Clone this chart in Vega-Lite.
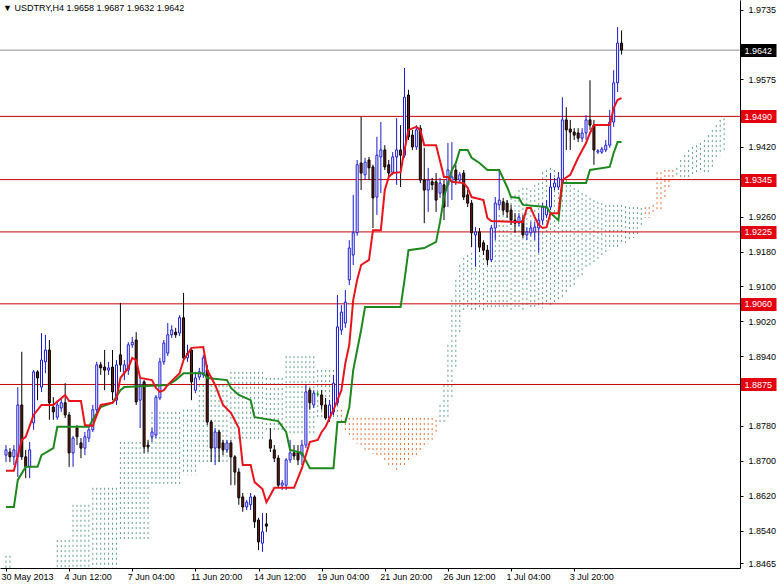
{
"$schema": "https://vega.github.io/schema/vega-lite/v6.json",
"width": 740, "height": 568,
"autosize": {"type": "none"},
"padding": {"left": 0, "top": 0, "right": 37, "bottom": 16},
"background": "white",
"title": {"text": "▼ USDTRY,H4  1.9658 1.9687 1.9632 1.9642", "anchor": "start", "frame": "group", "offset": -13, "fontSize": 9, "fontWeight": "normal", "font": "Liberation Sans", "color": "black", "dx": 3},
"config": {"view": {"stroke": null}, "font": "Liberation Sans", "axis": {"labelOverlap": false, "labelFlush": false, "labelBound": false}},
"datasets": {
"candles": [
{"i":0,"o":1.8713,"h":1.8736,"l":1.8697,"c":1.8725},
{"i":1,"o":1.8720,"h":1.8729,"l":1.8697,"c":1.8709},
{"i":2,"o":1.8709,"h":1.8736,"l":1.8690,"c":1.8725},
{"i":3,"o":1.8709,"h":1.8869,"l":1.8663,"c":1.8828},
{"i":4,"o":1.8828,"h":1.8950,"l":1.8702,"c":1.8709},
{"i":5,"o":1.8709,"h":1.8725,"l":1.8660,"c":1.8686},
{"i":6,"o":1.8686,"h":1.8743,"l":1.8660,"c":1.8725},
{"i":7,"o":1.8787,"h":1.8908,"l":1.8771,"c":1.8904},
{"i":8,"o":1.8904,"h":1.8908,"l":1.8839,"c":1.8890},
{"i":9,"o":1.8869,"h":1.8993,"l":1.8858,"c":1.8931},
{"i":10,"o":1.8927,"h":1.8989,"l":1.8901,"c":1.8954},
{"i":11,"o":1.8954,"h":1.8977,"l":1.8794,"c":1.8833},
{"i":12,"o":1.8823,"h":1.8846,"l":1.8794,"c":1.8812},
{"i":13,"o":1.8800,"h":1.8839,"l":1.8794,"c":1.8828},
{"i":14,"o":1.8821,"h":1.8844,"l":1.8812,"c":1.8833},
{"i":15,"o":1.8833,"h":1.8878,"l":1.8798,"c":1.8805},
{"i":16,"o":1.8805,"h":1.8812,"l":1.8686,"c":1.8718},
{"i":17,"o":1.8718,"h":1.8757,"l":1.8686,"c":1.8752},
{"i":18,"o":1.8775,"h":1.8782,"l":1.8736,"c":1.8755},
{"i":19,"o":1.8741,"h":1.8752,"l":1.8706,"c":1.8729},
{"i":20,"o":1.8729,"h":1.8766,"l":1.8713,"c":1.8755},
{"i":21,"o":1.8752,"h":1.8782,"l":1.8743,"c":1.8771},
{"i":22,"o":1.8771,"h":1.8828,"l":1.8766,"c":1.8817},
{"i":23,"o":1.8817,"h":1.8927,"l":1.8805,"c":1.8920},
{"i":24,"o":1.8920,"h":1.8927,"l":1.8897,"c":1.8913},
{"i":25,"o":1.8915,"h":1.8954,"l":1.8862,"c":1.8908},
{"i":26,"o":1.8908,"h":1.8927,"l":1.8897,"c":1.8913},
{"i":27,"o":1.8915,"h":1.8954,"l":1.8839,"c":1.8858},
{"i":28,"o":1.8839,"h":1.8931,"l":1.8828,"c":1.8920},
{"i":29,"o":1.8943,"h":1.9062,"l":1.8904,"c":1.8920},
{"i":30,"o":1.8901,"h":1.8931,"l":1.8885,"c":1.8920},
{"i":31,"o":1.8908,"h":1.8972,"l":1.8897,"c":1.8966},
{"i":32,"o":1.8966,"h":1.8984,"l":1.8959,"c":1.8972},
{"i":33,"o":1.8977,"h":1.8995,"l":1.8828,"c":1.8835},
{"i":34,"o":1.8839,"h":1.8890,"l":1.8775,"c":1.8874},
{"i":35,"o":1.8881,"h":1.8885,"l":1.8718,"c":1.8732},
{"i":36,"o":1.8736,"h":1.8748,"l":1.8720,"c":1.8732},
{"i":37,"o":1.8755,"h":1.8775,"l":1.8743,"c":1.8766},
{"i":38,"o":1.8759,"h":1.8851,"l":1.8752,"c":1.8846},
{"i":39,"o":1.8844,"h":1.8936,"l":1.8839,"c":1.8927},
{"i":40,"o":1.8927,"h":1.8977,"l":1.8920,"c":1.8970},
{"i":41,"o":1.8947,"h":1.9016,"l":1.8940,"c":1.8989},
{"i":42,"o":1.8989,"h":1.9011,"l":1.8982,"c":1.9000},
{"i":43,"o":1.8995,"h":1.9005,"l":1.8982,"c":1.8989},
{"i":44,"o":1.8993,"h":1.9034,"l":1.8986,"c":1.9028},
{"i":45,"o":1.9028,"h":1.9085,"l":1.8931,"c":1.8936},
{"i":46,"o":1.8936,"h":1.8966,"l":1.8927,"c":1.8947},
{"i":47,"o":1.8954,"h":1.8959,"l":1.8839,"c":1.8881},
{"i":48,"o":1.8862,"h":1.8904,"l":1.8855,"c":1.8890},
{"i":49,"o":1.8892,"h":1.8913,"l":1.8885,"c":1.8904},
{"i":50,"o":1.8897,"h":1.8943,"l":1.8890,"c":1.8936},
{"i":51,"o":1.8908,"h":1.8920,"l":1.8782,"c":1.8789},
{"i":52,"o":1.8789,"h":1.8794,"l":1.8697,"c":1.8729},
{"i":53,"o":1.8729,"h":1.8775,"l":1.8690,"c":1.8766},
{"i":54,"o":1.8766,"h":1.8771,"l":1.8697,"c":1.8729},
{"i":55,"o":1.8741,"h":1.8748,"l":1.8713,"c":1.8725},
{"i":56,"o":1.8725,"h":1.8748,"l":1.8718,"c":1.8741},
{"i":57,"o":1.8741,"h":1.8748,"l":1.8644,"c":1.8709},
{"i":58,"o":1.8709,"h":1.8713,"l":1.8644,"c":1.8674},
{"i":59,"o":1.8674,"h":1.8683,"l":1.8599,"c":1.8615},
{"i":60,"o":1.8617,"h":1.8626,"l":1.8583,"c":1.8594},
{"i":61,"o":1.8594,"h":1.8610,"l":1.8587,"c":1.8605},
{"i":62,"o":1.8599,"h":1.8626,"l":1.8587,"c":1.8617},
{"i":63,"o":1.8617,"h":1.8621,"l":1.8546,"c":1.8560},
{"i":64,"o":1.8564,"h":1.8569,"l":1.8495,"c":1.8514},
{"i":65,"o":1.8511,"h":1.8580,"l":1.8491,"c":1.8537},
{"i":66,"o":1.8555,"h":1.8580,"l":1.8537,"c":1.8550},
{"i":67,"o":1.8748,"h":1.8775,"l":1.8720,"c":1.8729},
{"i":68,"o":1.8725,"h":1.8736,"l":1.8697,"c":1.8706},
{"i":69,"o":1.8706,"h":1.8713,"l":1.8638,"c":1.8644},
{"i":70,"o":1.8644,"h":1.8656,"l":1.8633,"c":1.8649},
{"i":71,"o":1.8644,"h":1.8706,"l":1.8633,"c":1.8702},
{"i":72,"o":1.8702,"h":1.8748,"l":1.8695,"c":1.8718},
{"i":73,"o":1.8718,"h":1.8736,"l":1.8702,"c":1.8711},
{"i":74,"o":1.8718,"h":1.8736,"l":1.8690,"c":1.8702},
{"i":75,"o":1.8713,"h":1.8748,"l":1.8690,"c":1.8736},
{"i":76,"o":1.8736,"h":1.8874,"l":1.8729,"c":1.8858},
{"i":77,"o":1.8862,"h":1.8867,"l":1.8817,"c":1.8833},
{"i":78,"o":1.8828,"h":1.8862,"l":1.8821,"c":1.8855},
{"i":79,"o":1.8853,"h":1.8858,"l":1.8849,"c":1.8853},
{"i":80,"o":1.8851,"h":1.8862,"l":1.8817,"c":1.8828},
{"i":81,"o":1.8828,"h":1.8844,"l":1.8794,"c":1.8798},
{"i":82,"o":1.8798,"h":1.8839,"l":1.8789,"c":1.8828},
{"i":83,"o":1.8812,"h":1.8897,"l":1.8805,"c":1.8878},
{"i":84,"o":1.8833,"h":1.9080,"l":1.8828,"c":1.9007},
{"i":85,"o":1.9000,"h":1.9057,"l":1.8989,"c":1.9041},
{"i":86,"o":1.9016,"h":1.9092,"l":1.9005,"c":1.9064},
{"i":87,"o":1.9115,"h":1.9206,"l":1.9103,"c":1.9188},
{"i":88,"o":1.9172,"h":1.9310,"l":1.9149,"c":1.9223},
{"i":89,"o":1.9223,"h":1.9390,"l":1.9216,"c":1.9379},
{"i":90,"o":1.9383,"h":1.9489,"l":1.9321,"c":1.9360},
{"i":91,"o":1.9356,"h":1.9395,"l":1.9344,"c":1.9385},
{"i":92,"o":1.9390,"h":1.9397,"l":1.9344,"c":1.9372},
{"i":93,"o":1.9374,"h":1.9379,"l":1.9234,"c":1.9303},
{"i":94,"o":1.9305,"h":1.9443,"l":1.9264,"c":1.9401},
{"i":95,"o":1.9397,"h":1.9477,"l":1.9314,"c":1.9413},
{"i":96,"o":1.9413,"h":1.9424,"l":1.9367,"c":1.9374},
{"i":97,"o":1.9379,"h":1.9390,"l":1.9349,"c":1.9360},
{"i":98,"o":1.9362,"h":1.9408,"l":1.9356,"c":1.9397},
{"i":99,"o":1.9397,"h":1.9486,"l":1.9333,"c":1.9413},
{"i":100,"o":1.9413,"h":1.9470,"l":1.9328,"c":1.9401},
{"i":101,"o":1.9401,"h":1.9601,"l":1.9395,"c":1.9534},
{"i":102,"o":1.9539,"h":1.9551,"l":1.9436,"c":1.9443},
{"i":103,"o":1.9447,"h":1.9459,"l":1.9413,"c":1.9420},
{"i":104,"o":1.9420,"h":1.9470,"l":1.9413,"c":1.9459},
{"i":105,"o":1.9463,"h":1.9470,"l":1.9337,"c":1.9344},
{"i":106,"o":1.9344,"h":1.9418,"l":1.9245,"c":1.9321},
{"i":107,"o":1.9321,"h":1.9372,"l":1.9271,"c":1.9344},
{"i":108,"o":1.9340,"h":1.9349,"l":1.9321,"c":1.9333},
{"i":109,"o":1.9340,"h":1.9360,"l":1.9271,"c":1.9298},
{"i":110,"o":1.9314,"h":1.9349,"l":1.9303,"c":1.9337},
{"i":111,"o":1.9333,"h":1.9344,"l":1.9252,"c":1.9282},
{"i":112,"o":1.9333,"h":1.9429,"l":1.9282,"c":1.9367},
{"i":113,"o":1.9340,"h":1.9431,"l":1.9298,"c":1.9351},
{"i":114,"o":1.9367,"h":1.9379,"l":1.9333,"c":1.9344},
{"i":115,"o":1.9344,"h":1.9362,"l":1.9337,"c":1.9356},
{"i":116,"o":1.9360,"h":1.9367,"l":1.9298,"c":1.9305},
{"i":117,"o":1.9310,"h":1.9321,"l":1.9282,"c":1.9291},
{"i":118,"o":1.9291,"h":1.9298,"l":1.9190,"c":1.9223},
{"i":119,"o":1.9218,"h":1.9236,"l":1.9145,"c":1.9225},
{"i":120,"o":1.9225,"h":1.9234,"l":1.9179,"c":1.9190},
{"i":121,"o":1.9200,"h":1.9206,"l":1.9172,"c":1.9183},
{"i":122,"o":1.9183,"h":1.9195,"l":1.9149,"c":1.9161},
{"i":123,"o":1.9161,"h":1.9241,"l":1.9156,"c":1.9234},
{"i":124,"o":1.9234,"h":1.9305,"l":1.9206,"c":1.9291},
{"i":125,"o":1.9287,"h":1.9367,"l":1.9275,"c":1.9298},
{"i":126,"o":1.9294,"h":1.9303,"l":1.9264,"c":1.9275},
{"i":127,"o":1.9291,"h":1.9298,"l":1.9257,"c":1.9271},
{"i":128,"o":1.9275,"h":1.9287,"l":1.9241,"c":1.9252},
{"i":129,"o":1.9252,"h":1.9268,"l":1.9223,"c":1.9245},
{"i":130,"o":1.9245,"h":1.9268,"l":1.9238,"c":1.9259},
{"i":131,"o":1.9252,"h":1.9264,"l":1.9211,"c":1.9218},
{"i":132,"o":1.9218,"h":1.9236,"l":1.9206,"c":1.9225},
{"i":133,"o":1.9223,"h":1.9248,"l":1.9216,"c":1.9234},
{"i":134,"o":1.9225,"h":1.9248,"l":1.9206,"c":1.9236},
{"i":135,"o":1.9234,"h":1.9268,"l":1.9177,"c":1.9252},
{"i":136,"o":1.9252,"h":1.9291,"l":1.9241,"c":1.9282},
{"i":137,"o":1.9264,"h":1.9298,"l":1.9257,"c":1.9282},
{"i":138,"o":1.9282,"h":1.9360,"l":1.9275,"c":1.9328},
{"i":139,"o":1.9328,"h":1.9349,"l":1.9321,"c":1.9337},
{"i":140,"o":1.9328,"h":1.9362,"l":1.9321,"c":1.9349},
{"i":141,"o":1.9337,"h":1.9534,"l":1.9333,"c":1.9482},
{"i":142,"o":1.9482,"h":1.9511,"l":1.9413,"c":1.9459},
{"i":143,"o":1.9461,"h":1.9482,"l":1.9413,"c":1.9454},
{"i":144,"o":1.9454,"h":1.9463,"l":1.9436,"c":1.9447},
{"i":145,"o":1.9452,"h":1.9463,"l":1.9431,"c":1.9440},
{"i":146,"o":1.9440,"h":1.9463,"l":1.9431,"c":1.9452},
{"i":147,"o":1.9452,"h":1.9493,"l":1.9436,"c":1.9482},
{"i":148,"o":1.9482,"h":1.9573,"l":1.9459,"c":1.9470},
{"i":149,"o":1.9470,"h":1.9482,"l":1.9379,"c":1.9413},
{"i":150,"o":1.9408,"h":1.9415,"l":1.9404,"c":1.9411},
{"i":151,"o":1.9408,"h":1.9420,"l":1.9404,"c":1.9415},
{"i":152,"o":1.9413,"h":1.9436,"l":1.9408,"c":1.9424},
{"i":153,"o":1.9424,"h":1.9505,"l":1.9418,"c":1.9477},
{"i":154,"o":1.9477,"h":1.9596,"l":1.9466,"c":1.9567},
{"i":155,"o":1.9567,"h":1.9695,"l":1.9546,"c":1.9658},
{"i":156,"o":1.9658,"h":1.9687,"l":1.9632,"c":1.9642}
],
"tenkan": [
{"i":0,"v":1.8677},{"i":2,"v":1.8677},{"i":4,"v":1.8748},{"i":5,"v":1.8755},{"i":7,"v":1.8805},{"i":9,"v":1.8828},{"i":12,"v":1.8828},{"i":15,"v":1.8851},{"i":16,"v":1.8837},{"i":19,"v":1.8837},{"i":20,"v":1.8782},{"i":22,"v":1.8780},{"i":24,"v":1.8828},{"i":27,"v":1.8833},{"i":28,"v":1.8844},{"i":29,"v":1.8890},{"i":31,"v":1.8913},{"i":32,"v":1.8936},{"i":33,"v":1.8931},{"i":34,"v":1.8890},{"i":37,"v":1.8885},{"i":38,"v":1.8867},{"i":39,"v":1.8858},{"i":40,"v":1.8862},{"i":41,"v":1.8874},{"i":44,"v":1.8901},{"i":45,"v":1.8931},{"i":47,"v":1.8959},{"i":50,"v":1.8961},{"i":51,"v":1.8908},{"i":53,"v":1.8874},{"i":55,"v":1.8828},{"i":57,"v":1.8810},{"i":59,"v":1.8775},{"i":60,"v":1.8690},{"i":62,"v":1.8690},{"i":63,"v":1.8651},{"i":65,"v":1.8635},{"i":66,"v":1.8605},{"i":67,"v":1.8621},{"i":68,"v":1.8638},{"i":73,"v":1.8638},{"i":75,"v":1.8683},{"i":77,"v":1.8743},{"i":79,"v":1.8748},{"i":80,"v":1.8766},{"i":81,"v":1.8778},{"i":83,"v":1.8817},{"i":84,"v":1.8839},{"i":85,"v":1.8862},{"i":86,"v":1.8924},{"i":87,"v":1.8966},{"i":88,"v":1.9069},{"i":89,"v":1.9115},{"i":90,"v":1.9149},{"i":92,"v":1.9161},{"i":93,"v":1.9229},{"i":95,"v":1.9229},{"i":96,"v":1.9321},{"i":97,"v":1.9351},{"i":98,"v":1.9360},{"i":100,"v":1.9362},{"i":101,"v":1.9413},{"i":102,"v":1.9459},{"i":104,"v":1.9466},{"i":105,"v":1.9459},{"i":106,"v":1.9424},{"i":109,"v":1.9424},{"i":111,"v":1.9351},{"i":112,"v":1.9351},{"i":113,"v":1.9340},{"i":116,"v":1.9337},{"i":117,"v":1.9326},{"i":118,"v":1.9305},{"i":121,"v":1.9298},{"i":122,"v":1.9257},{"i":123,"v":1.9250},{"i":129,"v":1.9248},{"i":131,"v":1.9248},{"i":132,"v":1.9280},{"i":133,"v":1.9280},{"i":134,"v":1.9259},{"i":135,"v":1.9241},{"i":136,"v":1.9234},{"i":137,"v":1.9236},{"i":138,"v":1.9268},{"i":140,"v":1.9268},{"i":141,"v":1.9344},{"i":143,"v":1.9356},{"i":145,"v":1.9395},{"i":147,"v":1.9429},{"i":148,"v":1.9452},{"i":149,"v":1.9470},{"i":153,"v":1.9470},{"i":154,"v":1.9509},{"i":155,"v":1.9528},{"i":156,"v":1.9532}
],
"kijun": [
{"i":0,"v":1.8594},{"i":2,"v":1.8594},{"i":3,"v":1.8656},{"i":5,"v":1.8686},{"i":8,"v":1.8686},{"i":9,"v":1.8713},{"i":12,"v":1.8729},{"i":13,"v":1.8778},{"i":21,"v":1.8778},{"i":22,"v":1.8794},{"i":24,"v":1.8823},{"i":27,"v":1.8833},{"i":29,"v":1.8862},{"i":30,"v":1.8869},{"i":41,"v":1.8874},{"i":43,"v":1.8885},{"i":45,"v":1.8901},{"i":50,"v":1.8901},{"i":51,"v":1.8890},{"i":56,"v":1.8885},{"i":57,"v":1.8867},{"i":59,"v":1.8851},{"i":62,"v":1.8839},{"i":63,"v":1.8800},{"i":69,"v":1.8791},{"i":71,"v":1.8766},{"i":72,"v":1.8725},{"i":75,"v":1.8718},{"i":77,"v":1.8683},{"i":83,"v":1.8683},{"i":84,"v":1.8789},{"i":86,"v":1.8789},{"i":87,"v":1.8823},{"i":88,"v":1.8908},{"i":89,"v":1.8954},{"i":90,"v":1.9000},{"i":91,"v":1.9053},{"i":100,"v":1.9053},{"i":101,"v":1.9115},{"i":102,"v":1.9183},{"i":106,"v":1.9188},{"i":109,"v":1.9202},{"i":110,"v":1.9248},{"i":111,"v":1.9305},{"i":113,"v":1.9367},{"i":114,"v":1.9383},{"i":115,"v":1.9413},{"i":117,"v":1.9413},{"i":118,"v":1.9395},{"i":120,"v":1.9383},{"i":122,"v":1.9367},{"i":125,"v":1.9367},{"i":127,"v":1.9328},{"i":128,"v":1.9305},{"i":130,"v":1.9303},{"i":131,"v":1.9287},{"i":137,"v":1.9282},{"i":138,"v":1.9268},{"i":140,"v":1.9252},{"i":141,"v":1.9337},{"i":147,"v":1.9337},{"i":148,"v":1.9367},{"i":153,"v":1.9374},{"i":154,"v":1.9406},{"i":155,"v":1.9431},{"i":156,"v":1.9431}
],
"cloud": [
{"i":0,"t":1.8482,"b":1.8438,"k":"g"},{"i":1,"t":1.8482,"b":1.8438,"k":"g"},
{"i":13,"t":1.8518,"b":1.8438,"k":"g"},{"i":14,"t":1.8518,"b":1.8438,"k":"g"},{"i":15,"t":1.8518,"b":1.8438,"k":"g"},{"i":16,"t":1.8518,"b":1.8438,"k":"g"},
{"i":17,"t":1.8599,"b":1.8438,"k":"g"},{"i":18,"t":1.8599,"b":1.8438,"k":"g"},{"i":19,"t":1.8599,"b":1.8438,"k":"g"},{"i":20,"t":1.8599,"b":1.8438,"k":"g"},{"i":21,"t":1.8599,"b":1.8438,"k":"g"},
{"i":22,"t":1.8638,"b":1.8438,"k":"g"},{"i":23,"t":1.8638,"b":1.8438,"k":"g"},{"i":24,"t":1.8638,"b":1.8438,"k":"g"},{"i":25,"t":1.8638,"b":1.8438,"k":"g"},{"i":26,"t":1.8638,"b":1.8438,"k":"g"},{"i":27,"t":1.8638,"b":1.8438,"k":"g"},{"i":28,"t":1.8638,"b":1.8438,"k":"g"},
{"i":29,"t":1.8743,"b":1.8518,"k":"g"},{"i":30,"t":1.8743,"b":1.8518,"k":"g"},{"i":31,"t":1.8743,"b":1.8518,"k":"g"},{"i":32,"t":1.8743,"b":1.8518,"k":"g"},{"i":33,"t":1.8743,"b":1.8518,"k":"g"},{"i":34,"t":1.8743,"b":1.8518,"k":"g"},{"i":35,"t":1.8743,"b":1.8518,"k":"g"},{"i":36,"t":1.8743,"b":1.8518,"k":"g"},
{"i":37,"t":1.8812,"b":1.8644,"k":"g"},{"i":38,"t":1.8812,"b":1.8644,"k":"g"},{"i":39,"t":1.8812,"b":1.8644,"k":"g"},{"i":40,"t":1.8812,"b":1.8644,"k":"g"},{"i":41,"t":1.8812,"b":1.8644,"k":"g"},{"i":42,"t":1.8812,"b":1.8644,"k":"g"},{"i":43,"t":1.8812,"b":1.8644,"k":"g"},{"i":44,"t":1.8812,"b":1.8644,"k":"g"},
{"i":45,"t":1.8817,"b":1.8667,"k":"g"},{"i":46,"t":1.8817,"b":1.8667,"k":"g"},{"i":47,"t":1.8817,"b":1.8667,"k":"g"},{"i":48,"t":1.8817,"b":1.8667,"k":"g"},
{"i":49,"t":1.8874,"b":1.8697,"k":"g"},{"i":50,"t":1.8874,"b":1.8697,"k":"g"},{"i":51,"t":1.8874,"b":1.8697,"k":"g"},{"i":52,"t":1.8874,"b":1.8697,"k":"g"},{"i":53,"t":1.8874,"b":1.8697,"k":"g"},{"i":54,"t":1.8874,"b":1.8697,"k":"g"},{"i":55,"t":1.8874,"b":1.8697,"k":"g"},{"i":56,"t":1.8874,"b":1.8697,"k":"g"},
{"i":57,"t":1.8904,"b":1.8748,"k":"g"},{"i":58,"t":1.8904,"b":1.8748,"k":"g"},{"i":59,"t":1.8904,"b":1.8748,"k":"g"},{"i":60,"t":1.8904,"b":1.8748,"k":"g"},{"i":61,"t":1.8904,"b":1.8748,"k":"g"},{"i":62,"t":1.8904,"b":1.8748,"k":"g"},{"i":63,"t":1.8904,"b":1.8748,"k":"g"},{"i":64,"t":1.8904,"b":1.8748,"k":"g"},{"i":65,"t":1.8904,"b":1.8748,"k":"g"},
{"i":66,"t":1.8890,"b":1.8771,"k":"g"},{"i":67,"t":1.8890,"b":1.8771,"k":"g"},{"i":68,"t":1.8890,"b":1.8771,"k":"g"},{"i":69,"t":1.8890,"b":1.8771,"k":"g"},{"i":70,"t":1.8890,"b":1.8771,"k":"g"},
{"i":71,"t":1.8940,"b":1.8757,"k":"g"},{"i":72,"t":1.8940,"b":1.8757,"k":"g"},{"i":73,"t":1.8940,"b":1.8757,"k":"g"},{"i":74,"t":1.8940,"b":1.8757,"k":"g"},{"i":75,"t":1.8940,"b":1.8757,"k":"g"},{"i":76,"t":1.8940,"b":1.8757,"k":"g"},{"i":77,"t":1.8940,"b":1.8757,"k":"g"},{"i":78,"t":1.8940,"b":1.8757,"k":"g"},
{"i":79,"t":1.8908,"b":1.8794,"k":"g"},{"i":80,"t":1.8908,"b":1.8794,"k":"g"},{"i":81,"t":1.8908,"b":1.8794,"k":"g"},{"i":82,"t":1.8908,"b":1.8794,"k":"g"},{"i":83,"t":1.8908,"b":1.8794,"k":"g"},
{"i":84,"t":1.8851,"b":1.8794,"k":"g"},
{"i":85,"t":1.8817,"b":1.8782,"k":"o"},{"i":86,"t":1.8798,"b":1.8766,"k":"o"},{"i":87,"t":1.8798,"b":1.8757,"k":"o"},{"i":88,"t":1.8798,"b":1.8748,"k":"o"},{"i":89,"t":1.8798,"b":1.8739,"k":"o"},{"i":90,"t":1.8798,"b":1.8729,"k":"o"},{"i":91,"t":1.8798,"b":1.8725,"k":"o"},{"i":92,"t":1.8798,"b":1.8720,"k":"o"},{"i":93,"t":1.8798,"b":1.8716,"k":"o"},{"i":94,"t":1.8798,"b":1.8711,"k":"o"},{"i":95,"t":1.8798,"b":1.8706,"k":"o"},{"i":96,"t":1.8798,"b":1.8697,"k":"o"},{"i":97,"t":1.8798,"b":1.8690,"k":"o"},{"i":98,"t":1.8798,"b":1.8683,"k":"o"},{"i":99,"t":1.8798,"b":1.8679,"k":"o"},{"i":100,"t":1.8798,"b":1.8686,"k":"o"},{"i":101,"t":1.8798,"b":1.8690,"k":"o"},{"i":102,"t":1.8798,"b":1.8702,"k":"o"},{"i":103,"t":1.8798,"b":1.8706,"k":"o"},{"i":104,"t":1.8798,"b":1.8713,"k":"o"},{"i":105,"t":1.8798,"b":1.8720,"k":"o"},{"i":106,"t":1.8798,"b":1.8729,"k":"o"},{"i":107,"t":1.8798,"b":1.8739,"k":"o"},{"i":108,"t":1.8798,"b":1.8748,"k":"o"},{"i":109,"t":1.8794,"b":1.8759,"k":"o"},
{"i":110,"t":1.8828,"b":1.8782,"k":"g"},{"i":111,"t":1.8874,"b":1.8789,"k":"g"},{"i":112,"t":1.8966,"b":1.8794,"k":"g"},{"i":113,"t":1.9069,"b":1.8839,"k":"g"},{"i":114,"t":1.9115,"b":1.8908,"k":"g"},{"i":115,"t":1.9149,"b":1.8989,"k":"g"},{"i":116,"t":1.9165,"b":1.9041,"k":"g"},{"i":117,"t":1.9172,"b":1.9046,"k":"g"},{"i":118,"t":1.9177,"b":1.9046,"k":"g"},{"i":119,"t":1.9177,"b":1.9046,"k":"g"},{"i":120,"t":1.9183,"b":1.9046,"k":"g"},{"i":121,"t":1.9188,"b":1.9046,"k":"g"},{"i":122,"t":1.9183,"b":1.9046,"k":"g"},{"i":123,"t":1.9183,"b":1.9046,"k":"g"},{"i":124,"t":1.9229,"b":1.9046,"k":"g"},{"i":125,"t":1.9264,"b":1.9046,"k":"g"},{"i":126,"t":1.9287,"b":1.9046,"k":"g"},{"i":127,"t":1.9298,"b":1.9046,"k":"g"},{"i":128,"t":1.9303,"b":1.9046,"k":"g"},{"i":129,"t":1.9310,"b":1.9046,"k":"g"},{"i":130,"t":1.9321,"b":1.9046,"k":"g"},{"i":131,"t":1.9326,"b":1.9046,"k":"g"},{"i":132,"t":1.9326,"b":1.9050,"k":"g"},{"i":133,"t":1.9321,"b":1.9050,"k":"g"},{"i":134,"t":1.9333,"b":1.9050,"k":"g"},{"i":135,"t":1.9337,"b":1.9050,"k":"g"},{"i":136,"t":1.9362,"b":1.9050,"k":"g"},{"i":137,"t":1.9367,"b":1.9057,"k":"g"},{"i":138,"t":1.9372,"b":1.9057,"k":"g"},{"i":139,"t":1.9367,"b":1.9057,"k":"g"},{"i":140,"t":1.9362,"b":1.9064,"k":"g"},{"i":141,"t":1.9356,"b":1.9069,"k":"g"},{"i":142,"t":1.9344,"b":1.9080,"k":"g"},{"i":143,"t":1.9333,"b":1.9092,"k":"g"},{"i":144,"t":1.9326,"b":1.9103,"k":"g"},{"i":145,"t":1.9321,"b":1.9115,"k":"g"},{"i":146,"t":1.9314,"b":1.9126,"k":"g"},{"i":147,"t":1.9310,"b":1.9138,"k":"g"},{"i":148,"t":1.9303,"b":1.9147,"k":"g"},{"i":149,"t":1.9298,"b":1.9156,"k":"g"},{"i":150,"t":1.9294,"b":1.9161,"k":"g"},{"i":151,"t":1.9291,"b":1.9165,"k":"g"},{"i":152,"t":1.9287,"b":1.9172,"k":"g"},{"i":153,"t":1.9287,"b":1.9183,"k":"g"},{"i":154,"t":1.9287,"b":1.9188,"k":"g"},{"i":155,"t":1.9287,"b":1.9190,"k":"g"},{"i":156,"t":1.9287,"b":1.9195,"k":"g"},{"i":157,"t":1.9284,"b":1.9200,"k":"g"},{"i":158,"t":1.9282,"b":1.9206,"k":"g"},{"i":159,"t":1.9282,"b":1.9211,"k":"g"},{"i":160,"t":1.9282,"b":1.9218,"k":"g"},{"i":161,"t":1.9280,"b":1.9241,"k":"g"},
{"i":162,"t":1.9282,"b":1.9257,"k":"o"},{"i":163,"t":1.9282,"b":1.9257,"k":"o"},{"i":164,"t":1.9287,"b":1.9264,"k":"o"},{"i":165,"t":1.9362,"b":1.9271,"k":"o"},{"i":166,"t":1.9362,"b":1.9271,"k":"o"},{"i":167,"t":1.9367,"b":1.9298,"k":"o"},{"i":168,"t":1.9367,"b":1.9326,"k":"o"},{"i":169,"t":1.9367,"b":1.9344,"k":"o"},
{"i":170,"t":1.9372,"b":1.9353,"k":"g"},{"i":171,"t":1.9390,"b":1.9351,"k":"g"},{"i":172,"t":1.9401,"b":1.9351,"k":"g"},{"i":173,"t":1.9413,"b":1.9351,"k":"g"},{"i":174,"t":1.9420,"b":1.9351,"k":"g"},{"i":175,"t":1.9424,"b":1.9356,"k":"g"},{"i":176,"t":1.9429,"b":1.9360,"k":"g"},{"i":177,"t":1.9436,"b":1.9360,"k":"g"},{"i":178,"t":1.9447,"b":1.9362,"k":"g"},{"i":179,"t":1.9459,"b":1.9367,"k":"g"},{"i":180,"t":1.9470,"b":1.9390,"k":"g"},{"i":181,"t":1.9482,"b":1.9401,"k":"g"},{"i":182,"t":1.9486,"b":1.9413,"k":"g"}
],
"levels": [
{"p":1.949,"k":"r"},{"p":1.9345,"k":"r"},{"p":1.9225,"k":"r"},{"p":1.906,"k":"r"},{"p":1.8875,"k":"r"},{"p":1.9642,"k":"c"}
]
},
"encoding": {
 "x": {"field": "i", "type": "quantitative",
  "scale": {"domain": [-0.25, 184.75], "nice": false, "zero": false},
  "axis": {"values": [0,16,32,48,64,80,96,112,128,144], "tickCount": 50,
   "labelExpr": "['30 May 2013','4 Jun 12:00','7 Jun 04:00','11 Jun 20:00','14 Jun 12:00','19 Jun 04:00','21 Jun 20:00','26 Jun 12:00','1 Jul 04:00','3 Jul 20:00'][round(datum.value/16)]",
   "title": null, "grid": false, "labelAlign": "left", "labelBaseline": "top", "labelFont": "Liberation Sans", "labelFontSize": 9, "labelColor": "#000000", "labelPadding": 1, "labelOffset": -5, "tickSize": 3, "tickColor": "#000000", "domainColor": "#000000", "labelFlush": false, "labelOverlap": false, "labelBound": false}
 }
},
"layer": [
 {"data": {"name": "cloud"},
  "mark": {"type": "rule", "strokeDash": [2, 3], "strokeWidth": 1, "clip": true},
  "encoding": {
   "y": {"field": "t", "type": "quantitative", "scale": {"domain": [1.8454, 1.9757], "nice": false, "zero": false},
    "axis": {"orient": "right", "title": null, "grid": false, "format": ".4f", "tickCount": 50,
     "values": [1.9735,1.9642,1.9575,1.949,1.942,1.9345,1.926,1.9225,1.918,1.91,1.906,1.902,1.894,1.8875,1.878,1.87,1.862,1.854,1.8465],
     "labelOverlap": false, "labelFlush": false, "labelBound": false,
     "labelFont": "Liberation Sans", "labelFontSize": 9, "labelAlign": "left", "labelBaseline": "middle",
     "domainColor": "#000000",
     "tickColor": {"condition": {"test": "indexof([1.949,1.9345,1.9225,1.906,1.8875], datum.value) >= 0", "value": "#e4000f"}, "value": "#000000"},
     "tickSize": {"condition": {"test": "indexof([1.9642,1.949,1.9345,1.9225,1.906,1.8875], datum.value) >= 0", "value": 36}, "value": 3},
     "tickWidth": {"condition": {"test": "indexof([1.9642,1.949,1.9345,1.9225,1.906,1.8875], datum.value) >= 0", "value": 13}, "value": 1},
     "labelColor": {"condition": {"test": "indexof([1.9642,1.949,1.9345,1.9225,1.906,1.8875], datum.value) >= 0", "value": "#ffffff"}, "value": "#000000"},
     "labelPadding": {"condition": {"test": "indexof([1.9642,1.949,1.9345,1.9225,1.906,1.8875], datum.value) >= 0", "value": -32}, "value": 5}
    }},
   "y2": {"field": "b"},
   "color": {"condition": {"test": "datum.k == 'o'", "value": "#e2703a"}, "value": "#5f9c8a"}
  }},
 {"data": {"name": "levels"},
  "mark": {"type": "rule", "strokeWidth": 1},
  "encoding": {
   "x": {"value": 0}, "x2": {"value": 740},
   "y": {"field": "p", "type": "quantitative", "scale": {"domain": [1.8454, 1.9757], "nice": false, "zero": false}, "axis": {"title": null, "labelOverlap": false, "tickCount": 50}},
   "color": {"condition": {"test": "datum.k == 'c'", "value": "#8c8c8c"}, "value": "#c80000"}
  }},
 {"data": {"name": "candles"},
  "mark": {"type": "rule", "strokeWidth": 1, "clip": true},
  "encoding": {
   "y": {"field": "l", "type": "quantitative", "scale": {"domain": [1.8454, 1.9757], "nice": false, "zero": false}, "axis": {"title": null, "labelOverlap": false, "tickCount": 50}},
   "y2": {"field": "h"},
   "color": {"condition": [{"test": "datum.c == datum.o", "value": "#00a000"}, {"test": "datum.c > datum.o", "value": "#1a1ad0"}], "value": "#000000"}
  }},
 {"data": {"name": "candles"},
  "mark": {"type": "bar", "width": 2, "strokeWidth": 1, "clip": true},
  "encoding": {
   "y": {"field": "o", "type": "quantitative", "scale": {"domain": [1.8454, 1.9757], "nice": false, "zero": false}, "axis": {"title": null, "labelOverlap": false, "tickCount": 50}},
   "y2": {"field": "c"},
   "fill": {"condition": [{"test": "datum.c == datum.o", "value": "#00a000"}, {"test": "datum.c > datum.o", "value": "#ffffff"}], "value": "#6b1d10"},
   "stroke": {"condition": [{"test": "datum.c == datum.o", "value": "#00a000"}, {"test": "datum.c > datum.o", "value": "#1a1ad0"}], "value": "#000000"}
  }},
 {"data": {"name": "kijun"},
  "mark": {"type": "line", "strokeWidth": 2, "color": "#1e871e", "clip": true},
  "encoding": {
   "y": {"field": "v", "type": "quantitative", "scale": {"domain": [1.8454, 1.9757], "nice": false, "zero": false}, "axis": {"title": null, "labelOverlap": false, "tickCount": 50}}
  }},
 {"data": {"name": "tenkan"},
  "mark": {"type": "line", "strokeWidth": 2, "color": "#e8141c", "clip": true},
  "encoding": {
   "y": {"field": "v", "type": "quantitative", "scale": {"domain": [1.8454, 1.9757], "nice": false, "zero": false}, "axis": {"title": null, "labelOverlap": false, "tickCount": 50}}
  }}
]
}
